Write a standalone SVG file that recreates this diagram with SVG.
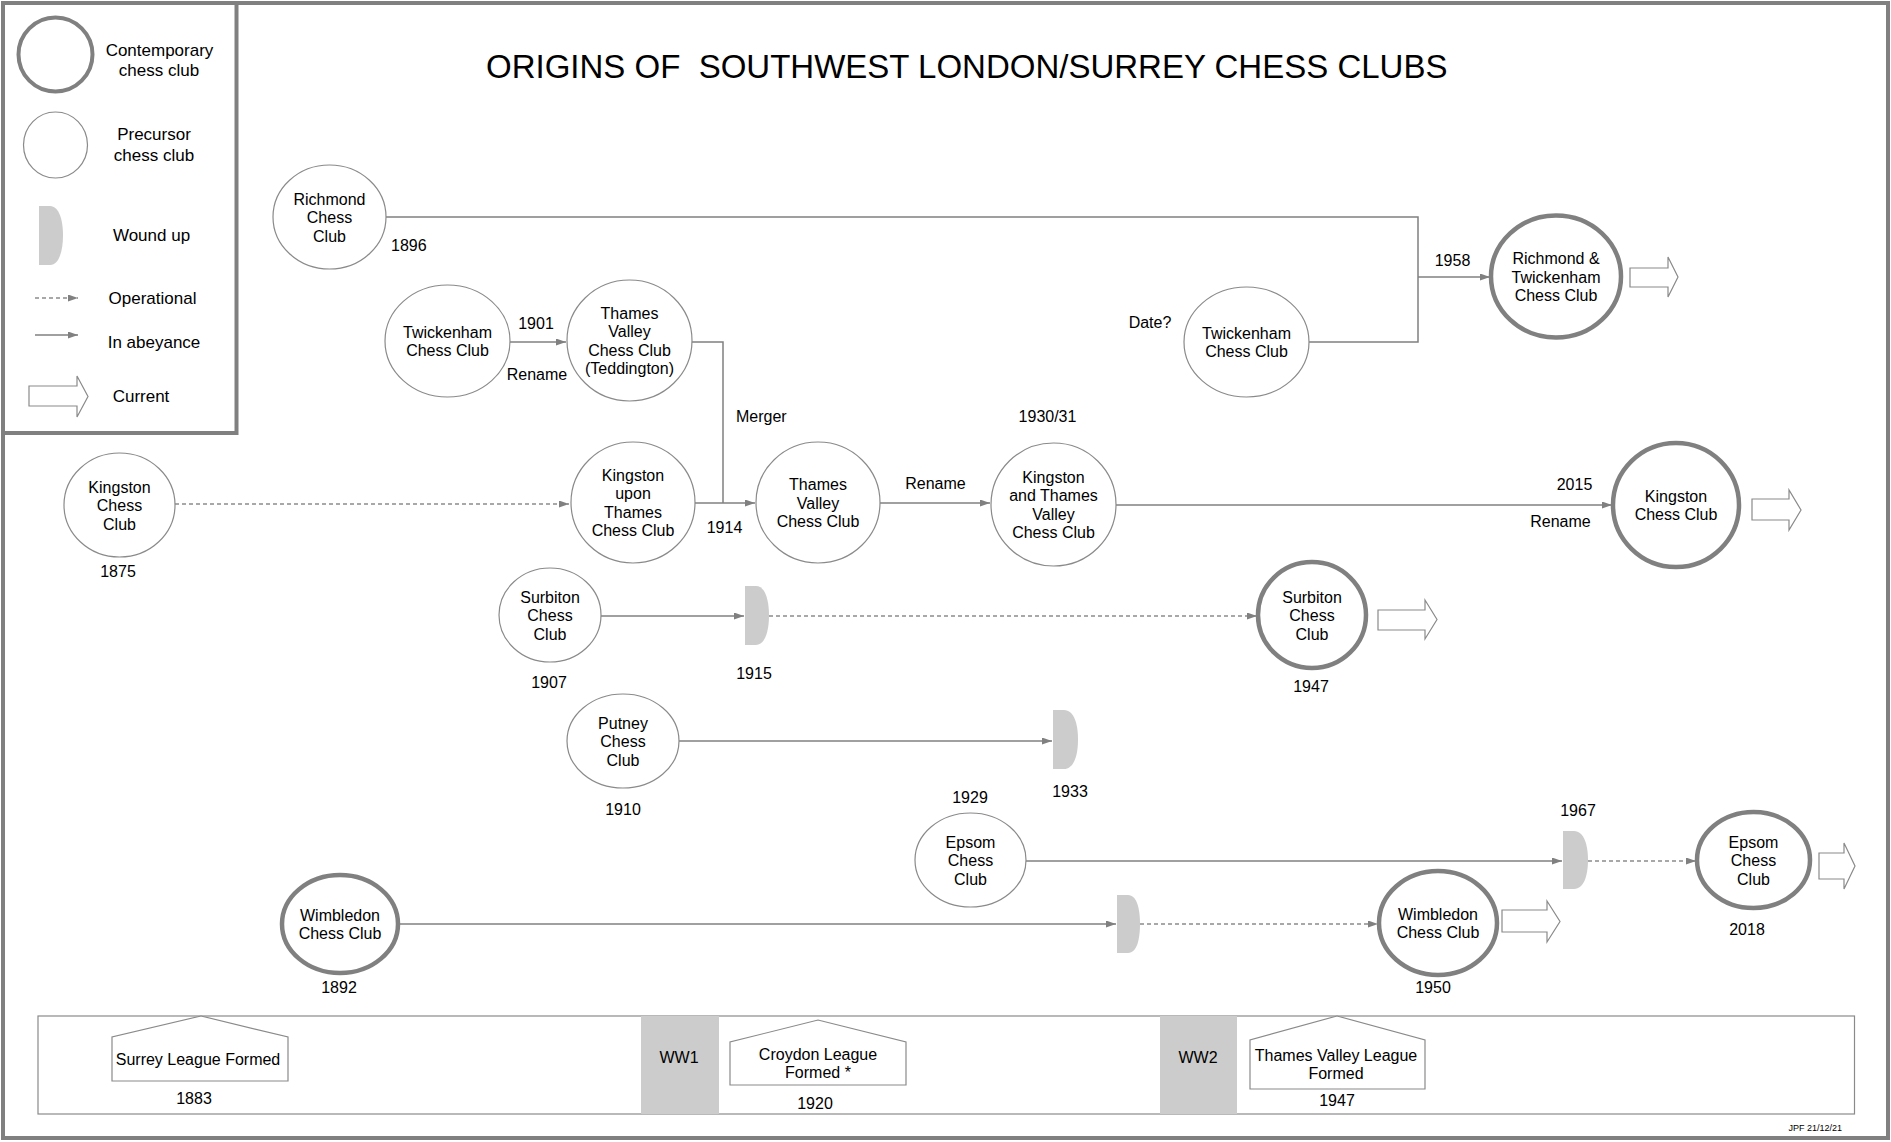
<svg xmlns="http://www.w3.org/2000/svg" width="1891" height="1142" viewBox="0 0 1891 1142">
<style>
text{font-family:"Liberation Sans",Arial,Helvetica,sans-serif;fill:#000;}
.t{font-size:16px;text-anchor:middle;}
.l{font-size:16px;}
.lg{font-size:17px;text-anchor:middle;}
.pre{fill:#fff;stroke:#8a8a8a;stroke-width:1.2;}
.cur{fill:#fff;stroke:#808080;stroke-width:4.5;}
.ln{fill:none;stroke:#808080;stroke-width:1.5;}
.dash{fill:none;stroke:#8c8c8c;stroke-width:1.5;stroke-dasharray:4 3;}
.wu{fill:#cccccc;stroke:none;}
.ca{fill:#fff;stroke:#8a8a8a;stroke-width:1.2;}
.frame{fill:none;stroke:#808080;stroke-width:4;}
</style>
<defs>
<marker id="ah" markerUnits="userSpaceOnUse" markerWidth="10" markerHeight="8" refX="10" refY="3.5" orient="auto">
<path d="M0,0 L10,3.5 L0,7 z" fill="#808080"/>
</marker>
</defs>
<rect x="0" y="0" width="1891" height="1142" fill="#fff"/>
<rect class="frame" x="3" y="3" width="1885" height="1135"/>

<g id="legend">
<rect class="frame" x="3" y="3" width="233.5" height="430" fill="#fff"/>
<ellipse cx="55.5" cy="54.5" rx="37" ry="37" fill="#fff" stroke="#808080" stroke-width="4"/>
<text class="lg" x="159.5" y="56">Contemporary</text>
<text class="lg" x="159" y="76">chess club</text>
<ellipse class="pre" cx="55.5" cy="145" rx="32" ry="33"/>
<text class="lg" x="154" y="140">Precursor</text>
<text class="lg" x="154" y="161">chess club</text>
<path class="wu" d="M39,206 H50 C59,206 63,220 63,235.5 C63,251 59,265 50,265 H39 Z"/>
<text class="lg" x="151.5" y="241">Wound up</text>
<path class="dash" d="M35,298 H78" marker-end="url(#ah)"/>
<text class="lg" x="152.5" y="304">Operational</text>
<path class="ln" d="M35,335 H78" marker-end="url(#ah)"/>
<text class="lg" x="154" y="348">In abeyance</text>
<path class="ca" d="M29,386 H77 V376 L88,396.5 L77,417 V406 H29 Z"/>
<text class="lg" x="141" y="402">Current</text>
</g>

<text x="486" y="78" font-size="33" xml:space="preserve">ORIGINS OF  SOUTHWEST LONDON/SURREY CHESS CLUBS</text>

<g id="connectors">
<path class="ln" d="M386,217 H1418 V342 H1309"/>
<path class="ln" d="M1418,277 H1490" marker-end="url(#ah)"/>
<path class="ln" d="M510,342 H566" marker-end="url(#ah)"/>
<path class="ln" d="M692,342 H723 V503"/>
<path class="dash" d="M175,504 H569" marker-end="url(#ah)"/>
<path class="ln" d="M695,503 H755" marker-end="url(#ah)"/>
<path class="ln" d="M880,503 H990" marker-end="url(#ah)"/>
<path class="ln" d="M1116,505 H1612" marker-end="url(#ah)"/>
<path class="ln" d="M601,616 H744" marker-end="url(#ah)"/>
<path class="dash" d="M769,616 H1257" marker-end="url(#ah)"/>
<path class="ln" d="M679,741 H1052" marker-end="url(#ah)"/>
<path class="ln" d="M1026,861 H1562" marker-end="url(#ah)"/>
<path class="dash" d="M1588,861 H1696" marker-end="url(#ah)"/>
<path class="ln" d="M398,924 H1116" marker-end="url(#ah)"/>
<path class="dash" d="M1140,924 H1378" marker-end="url(#ah)"/>
</g>

<g id="labels">
<text class="l" x="391" y="251">1896</text>
<text class="t" x="536" y="329">1901</text>
<text class="t" x="537" y="380">Rename</text>
<text class="l" x="736" y="422">Merger</text>
<text class="t" x="724.5" y="533">1914</text>
<text class="t" x="935.5" y="489">Rename</text>
<text class="t" x="1047.5" y="422">1930/31</text>
<text class="t" x="1150" y="328">Date?</text>
<text class="t" x="1452.5" y="266">1958</text>
<text class="t" x="1574.5" y="490">2015</text>
<text class="t" x="1560.5" y="527">Rename</text>
<text class="t" x="118" y="577">1875</text>
<text class="t" x="549" y="688">1907</text>
<text class="t" x="754" y="679">1915</text>
<text class="t" x="1311" y="692">1947</text>
<text class="t" x="623" y="815">1910</text>
<text class="t" x="1070" y="797">1933</text>
<text class="t" x="970" y="803">1929</text>
<text class="t" x="1578" y="816">1967</text>
<text class="t" x="1747" y="935">2018</text>
<text class="t" x="339" y="993">1892</text>
<text class="t" x="1433" y="993">1950</text>
</g>

<g id="n-richmond"><ellipse class="pre" cx="329.5" cy="217" rx="56.5" ry="52"/>
<text class="t" x="329.5" y="204.5">Richmond<tspan x="329.5" dy="18.5">Chess</tspan><tspan x="329.5" dy="18.5">Club</tspan></text></g>

<g id="n-twickenham1"><ellipse class="pre" cx="447.5" cy="341" rx="62.5" ry="56"/>
<text class="t" x="447.5" y="337.75">Twickenham<tspan x="447.5" dy="18.5">Chess Club</tspan></text></g>

<g id="n-tvcc-teddington"><ellipse class="pre" cx="629.5" cy="340.5" rx="62.5" ry="60.5"/>
<text class="t" x="629.5" y="318.75">Thames<tspan x="629.5" dy="18.5">Valley</tspan><tspan x="629.5" dy="18.5">Chess Club</tspan><tspan x="629.5" dy="18.5">(Teddington)</tspan></text></g>

<g id="n-kingston1875"><ellipse class="pre" cx="119.5" cy="505" rx="55.5" ry="52"/>
<text class="t" x="119.5" y="492.5">Kingston<tspan x="119.5" dy="18.5">Chess</tspan><tspan x="119.5" dy="18.5">Club</tspan></text></g>

<g id="n-kut"><ellipse class="pre" cx="633" cy="502.5" rx="62" ry="60.5"/>
<text class="t" x="633" y="480.75">Kingston<tspan x="633" dy="18.5">upon</tspan><tspan x="633" dy="18.5">Thames</tspan><tspan x="633" dy="18.5">Chess Club</tspan></text></g>

<g id="n-tvcc"><ellipse class="pre" cx="818" cy="502.5" rx="62" ry="60.5"/>
<text class="t" x="818" y="490">Thames<tspan x="818" dy="18.5">Valley</tspan><tspan x="818" dy="18.5">Chess Club</tspan></text></g>

<g id="n-ktv"><ellipse class="pre" cx="1053.5" cy="504.5" rx="62.5" ry="61.5"/>
<text class="t" x="1053.5" y="482.75">Kingston<tspan x="1053.5" dy="18.5">and Thames</tspan><tspan x="1053.5" dy="18.5">Valley</tspan><tspan x="1053.5" dy="18.5">Chess Club</tspan></text></g>

<g id="n-twickenham2"><ellipse class="pre" cx="1246.5" cy="342" rx="62.5" ry="55"/>
<text class="t" x="1246.5" y="338.75">Twickenham<tspan x="1246.5" dy="18.5">Chess Club</tspan></text></g>

<g id="n-richmond-twickenham"><ellipse class="cur" cx="1556" cy="276.5" rx="65" ry="61"/>
<text class="t" x="1556" y="264">Richmond &amp;<tspan x="1556" dy="18.5">Twickenham</tspan><tspan x="1556" dy="18.5">Chess Club</tspan></text>
<path class="ca" d="M1630,268 H1668 V257 L1678,277 L1668,297 V287 H1630 Z"/></g>

<g id="n-kingstoncc"><ellipse class="cur" cx="1676" cy="505" rx="63" ry="62"/>
<text class="t" x="1676" y="501.75">Kingston<tspan x="1676" dy="18.5">Chess Club</tspan></text>
<path class="ca" d="M1752,499 H1789 V490 L1801,510 L1789,530 V520 H1752 Z"/></g>

<g id="n-surbiton1907"><ellipse class="pre" cx="550" cy="615" rx="51" ry="47"/>
<text class="t" x="550" y="602.5">Surbiton<tspan x="550" dy="18.5">Chess</tspan><tspan x="550" dy="18.5">Club</tspan></text></g>
<g id="w-1915"><path class="wu" d="M745,586 H756 C765,586 769,600 769,615.5 C769,631 765,645 756,645 H745 Z"/></g>

<g id="n-surbiton"><ellipse class="cur" cx="1312" cy="615" rx="54" ry="53"/>
<text class="t" x="1312" y="602.5">Surbiton<tspan x="1312" dy="18.5">Chess</tspan><tspan x="1312" dy="18.5">Club</tspan></text>
<path class="ca" d="M1378,610 H1425 V600 L1437,619.5 L1425,639 V630 H1378 Z"/></g>

<g id="n-putney"><ellipse class="pre" cx="623" cy="741" rx="56" ry="47"/>
<text class="t" x="623" y="728.5">Putney<tspan x="623" dy="18.5">Chess</tspan><tspan x="623" dy="18.5">Club</tspan></text></g>
<g id="w-1933"><path class="wu" d="M1053,710 H1064 C1074,710 1078,724 1078,739.5 C1078,755 1074,769 1064,769 H1053 Z"/></g>

<g id="n-epsom1929"><ellipse class="pre" cx="970.5" cy="860" rx="55.5" ry="47"/>
<text class="t" x="970.5" y="847.5">Epsom<tspan x="970.5" dy="18.5">Chess</tspan><tspan x="970.5" dy="18.5">Club</tspan></text></g>
<g id="w-1967"><path class="wu" d="M1563,831 H1574 C1584,831 1588,845 1588,860 C1588,875 1584,889 1574,889 H1563 Z"/></g>

<g id="n-epsom"><ellipse class="cur" cx="1753.5" cy="860" rx="56.5" ry="48"/>
<text class="t" x="1753.5" y="847.5">Epsom<tspan x="1753.5" dy="18.5">Chess</tspan><tspan x="1753.5" dy="18.5">Club</tspan></text>
<path class="ca" d="M1819,853 H1844 V843 L1855,866 L1844,889 V879 H1819 Z"/></g>

<g id="n-wimbledon1892"><ellipse class="cur" cx="340" cy="924" rx="58" ry="49"/>
<text class="t" x="340" y="920.75">Wimbledon<tspan x="340" dy="18.5">Chess Club</tspan></text></g>
<g id="w-wimbledon"><path class="wu" d="M1117,895 H1128 C1137,895 1140,909 1140,924 C1140,939 1137,953 1128,953 H1117 Z"/></g>

<g id="n-wimbledon"><ellipse class="cur" cx="1438" cy="923" rx="59" ry="52"/>
<text class="t" x="1438" y="919.75">Wimbledon<tspan x="1438" dy="18.5">Chess Club</tspan></text>
<path class="ca" d="M1502,910 H1547 V901 L1560,921.5 L1547,942 V932 H1502 Z"/></g>

<g id="timeline">
<rect x="38" y="1016" width="1816.5" height="98" fill="#fff" stroke="#8a8a8a" stroke-width="1.2"/>
<rect x="641" y="1016" width="78" height="98" fill="#cccccc"/>
<text class="t" x="679" y="1063">WW1</text>
<rect x="1160" y="1016" width="77" height="98" fill="#cccccc"/>
<text class="t" x="1198" y="1063">WW2</text>
<g id="ev-surrey"><path class="ca" d="M112,1081 V1037 L201,1016 L288,1037 V1081 Z"/>
<text class="t" x="198" y="1065">Surrey League Formed</text>
<text class="t" x="194" y="1104">1883</text></g>
<g id="ev-croydon"><path class="ca" d="M730,1085 V1042 L818,1020 L906,1042 V1085 Z"/>
<text class="t" x="818" y="1060">Croydon League<tspan x="818" dy="18">Formed *</tspan></text>
<text class="t" x="815" y="1109">1920</text></g>
<g id="ev-tvl"><path class="ca" d="M1250,1089 V1040 L1337,1016 L1425,1040 V1089 Z"/>
<text class="t" x="1336" y="1061">Thames Valley League<tspan x="1336" dy="18">Formed</tspan></text>
<text class="t" x="1337" y="1106">1947</text></g>
</g>

<text x="1842" y="1131" font-size="9" text-anchor="end">JPF 21/12/21</text>
</svg>
